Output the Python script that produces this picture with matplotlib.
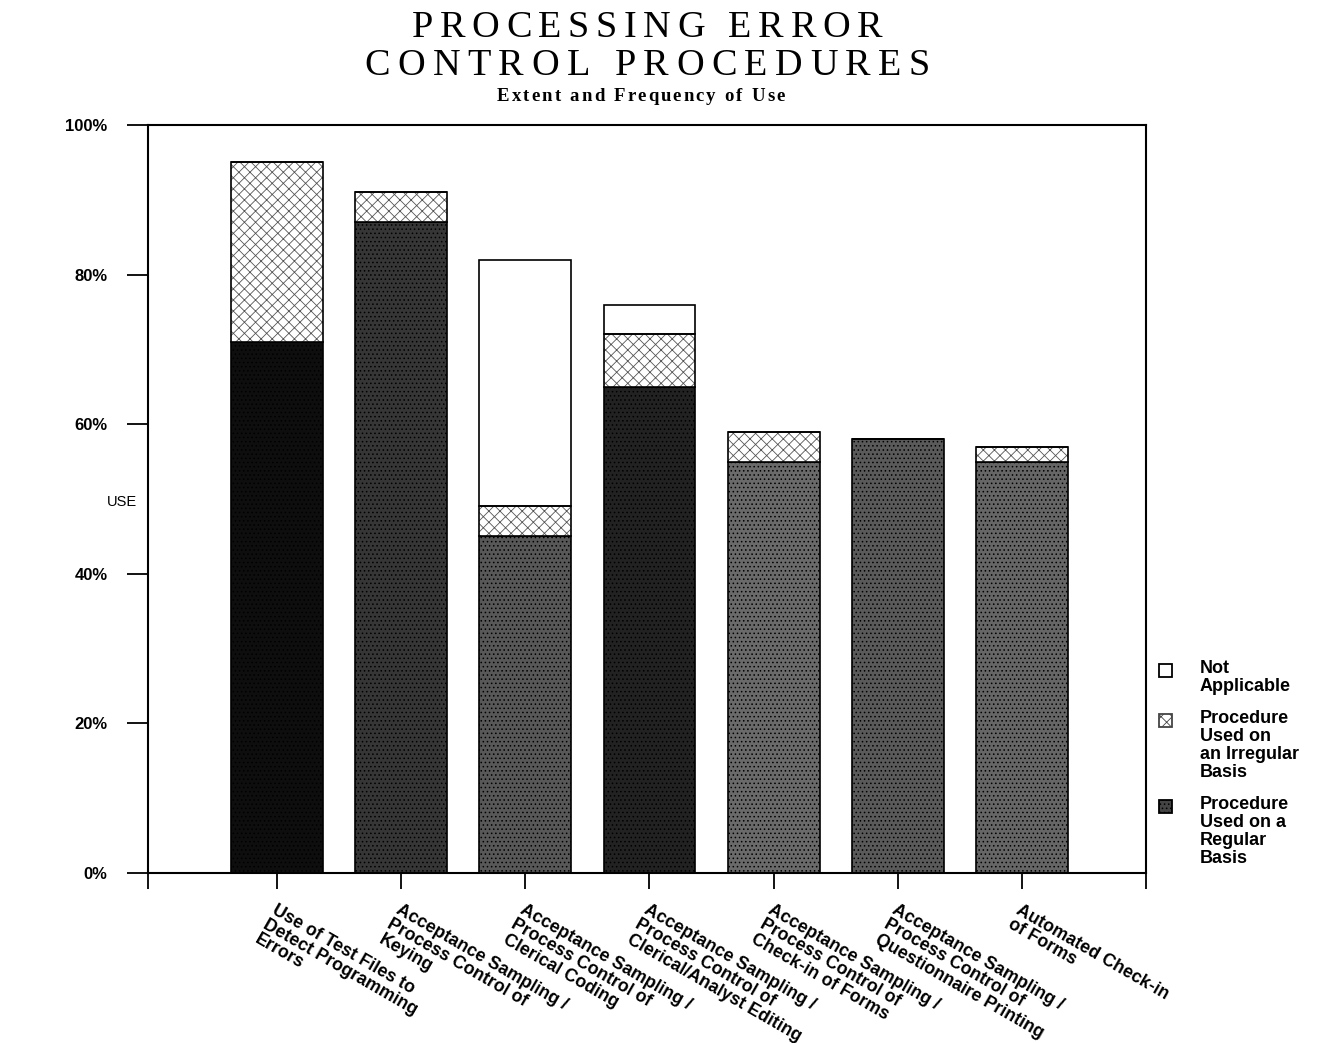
import matplotlib
matplotlib.use("Agg")
import matplotlib.pyplot as plt
from matplotlib.patches import Rectangle
import numpy as np

# data (percent of respondents)
categories = [
    "Use of Test Files to\nDetect Programming\nErrors",
    "Acceptance Sampling /\nProcess Control of\nKeying",
    "Acceptance Sampling /\nProcess Control of\nClerical Coding",
    "Acceptance Sampling /\nProcess Control of\nClerical/Analyst Editing",
    "Acceptance Sampling /\nProcess Control of\nCheck-in of Forms",
    "Acceptance Sampling /\nProcess Control of\nQuestionnaire Printing",
    "Automated Check-in\nof Forms",
]
regular = [71, 87, 45, 65, 55, 58, 55]
irregular = [24, 4, 4, 7, 4, 0, 2]
not_applicable = [0, 0, 33, 4, 0, 0, 0]
yticks = [0, 20, 40, 60, 80, 100]
legend_labels = ["Not\nApplicable",
                 "Procedure\nUsed on\nan Irregular\nBasis",
                 "Procedure\nUsed on a\nRegular\nBasis"]

# scanned greys differ a bit from bar to bar
reg_colors = ["#0e0e0e", "#363636", "#585858", "#222222", "#6a6a6a", "#5a5a5a", "#666666"]

sans = "Liberation Sans"
serif = "Liberation Serif"
plt.rcParams["hatch.linewidth"] = 0.6

W, H = 1321, 1043


def tracked(fig, cx, base, s, width, space, **kw):
    # letter-spaced line, drawn char by char so it spans `width` pixels
    r = fig.canvas.get_renderer()
    ws = []
    for ch in s:
        if ch == " ":
            ws.append(space)
            continue
        t = fig.text(0, 0, ch, **kw)
        ws.append(t.get_window_extent(r).width)
        t.remove()
    gap = (width - sum(ws)) / (len(s) - 1)
    xp = cx - width / 2
    for ch, cw in zip(s, ws):
        if ch != " ":
            fig.text(xp / W, 1 - base / H, ch, ha="left", va="baseline", **kw)
        xp += cw + gap


fig = plt.figure(figsize=(W / 100, H / 100), dpi=100)
ax = fig.add_axes([148 / W, 1 - 873 / H, 998 / W, 748 / H])

x = np.arange(len(categories))
w = 0.74
reg = np.array(regular)
irr = np.array(irregular)
na = np.array(not_applicable)

for i in range(len(x)):
    ax.bar(x[i], reg[i], w, color=reg_colors[i], edgecolor="black", linewidth=1.2,
           hatch="....", zorder=2)
ax.bar(x, irr, w, bottom=reg, color="white", edgecolor="#555555", linewidth=0,
       hatch="xxx", zorder=2)
ax.bar(x, irr, w, bottom=reg, color="none", edgecolor="black", linewidth=1.2, zorder=3)
ax.bar(x, na, w, bottom=reg + irr, color="white", edgecolor="black", linewidth=1.2, zorder=2)

x0, x1 = -1.04, 7.0
ax.set_xlim(x0, x1)
ax.set_ylim(0, 100)
ax.set_yticks(yticks)
ax.set_yticklabels([f"{v}%" for v in yticks], fontfamily=sans, fontweight="bold", fontsize=12)
ax.tick_params(axis="y", direction="out", length=15, width=1.3, pad=14)

ax.set_xticks([x0] + list(x) + [x1])
ax.set_xticklabels([""] + categories + [""], fontfamily=sans, fontweight="bold",
                   fontsize=12.8, rotation=-30, ha="left", va="top",
                   rotation_mode="anchor", linespacing=1.0)
ax.tick_params(axis="x", direction="out", length=11.5, width=1.3, pad=9)

for s in ax.spines.values():
    s.set_linewidth(1.5)

ax.text(-1.25, 49.6, "USE", fontfamily=sans, fontsize=10.5, ha="center", va="center")

# title block
tracked(fig, 647, 37, "PROCESSING ERROR", 471, 10, family=serif, fontsize=27.5)
tracked(fig, 647, 75, "CONTROL PROCEDURES", 565, 10, family=serif, fontsize=27.5)
tracked(fig, 641, 101, "Extent and Frequency of Use", 288, 5,
        family=serif, fontweight="bold", fontsize=13.5)

# legend: swatch aligned with the first text line
swatches = [
    dict(facecolor="white", edgecolor="black", hatch=None),
    dict(facecolor="white", edgecolor="#444444", hatch="xxx"),
    dict(facecolor="#444444", edgecolor="black", hatch="...."),
]
tops = [663, 713, 799]
for lab, sw, top in zip(legend_labels, swatches, tops):
    fig.patches.append(Rectangle((1159 / W, 1 - (top + 14) / H), 13 / W, 13 / H,
                                 transform=fig.transFigure, linewidth=1.3, **sw))
    fig.text(1200 / W, 1 - (top - 3) / H, lab, fontfamily=sans, fontweight="bold",
             fontsize=13, ha="left", va="top", linespacing=1.08)

fig.savefig("out.png", dpi=100)
